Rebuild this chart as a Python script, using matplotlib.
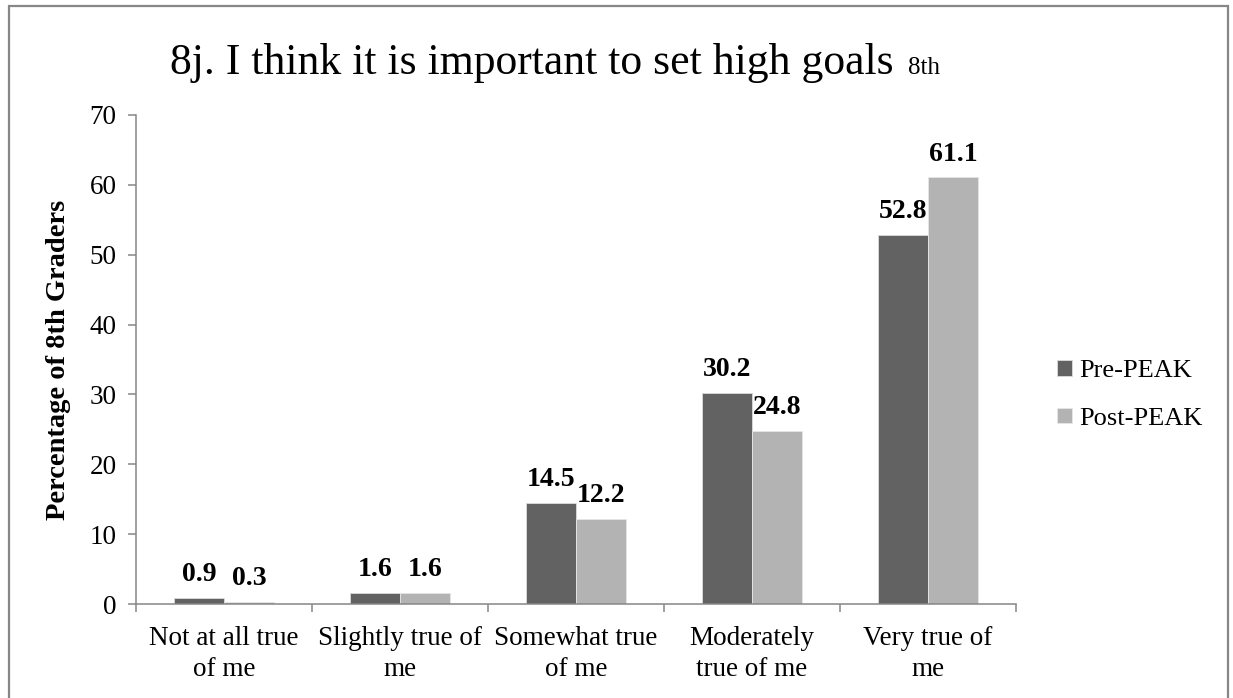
import numpy as np
import matplotlib.pyplot as plt
from matplotlib.patches import Rectangle

# data
categories = ['Not at all true\nof me', 'Slightly true of\nme', 'Somewhat true\nof me',
              'Moderately\ntrue of me', 'Very true of\nme']
pre_peak = [0.9, 1.6, 14.5, 30.2, 52.8]
post_peak = [0.3, 1.6, 12.2, 24.8, 61.1]
series_names = ['Pre-PEAK', 'Post-PEAK']
yticks = [0, 10, 20, 30, 40, 50, 60, 70]

plt.rcParams['font.family'] = ['Liberation Serif', 'DejaVu Serif']

W, H = 1233, 698
fig = plt.figure(figsize=(W / 100, H / 100), dpi=100)
ax = fig.add_axes([136 / W, 1 - 604 / H, (1016 - 136) / W, (604 - 115) / H])

grey = '#868686'
x = np.arange(len(categories))
w = 0.284
b1 = ax.bar(x - w / 2, pre_peak, w, color='#626262', edgecolor='#dcdcdc', linewidth=0.6,
            label=series_names[0])
b2 = ax.bar(x + w / 2, post_peak, w, color='#b3b3b3', edgecolor='#e6e6e6', linewidth=0.6,
            label=series_names[1])

for bars, vals in [(b1, pre_peak), (b2, post_peak)]:
    for r, v in zip(bars, vals):
        ax.annotate(f'{v}', (r.get_x() + r.get_width() / 2, v), xytext=(0, 12),
                    textcoords='offset points', ha='center', va='baseline',
                    fontsize=20, fontweight='bold')

ax.set_xlim(-0.5, len(categories) - 0.5)
ax.set_ylim(0, 70)
ax.set_yticks(yticks)
ax.set_xticks(x)
ax.set_xticklabels(categories, linespacing=1.3)
ax.set_xticks(np.arange(len(categories) + 1) - 0.5, minor=True)
ax.tick_params(axis='x', which='major', length=0, pad=16, labelsize=19.5)
ax.tick_params(axis='x', which='minor', length=6, width=1.1, color=grey, direction='out')
ax.tick_params(axis='y', length=6, width=1.1, color=grey, pad=8, labelsize=19.5)

for s in ['top', 'right']:
    ax.spines[s].set_visible(False)
for s in ['left', 'bottom']:
    ax.spines[s].set_color(grey)
    ax.spines[s].set_linewidth(1.1)

fig.text(59 / W, 1 - 360 / H, 'Percentage of 8th Graders', rotation=90, ha='center',
         va='center', fontsize=20.5, fontweight='bold')

# title with the small "8th" tag right after it
t = fig.text(170 / W, 1 - 74 / H, '8j. I think it is important to set high goals',
             ha='left', va='baseline', fontsize=31.5)
fig.canvas.draw()
bb = t.get_window_extent()
fig.text((bb.x1 + 14) / W, 1 - 74 / H, '8th', ha='left', va='baseline', fontsize=18)

ax.legend(loc='center left', bbox_to_anchor=(1057 / W, 1 - 395 / H),
          bbox_transform=fig.transFigure, frameon=False, fontsize=19,
          handlelength=0.55, handleheight=0.55, handletextpad=0.3,
          labelspacing=0.95, borderpad=0, borderaxespad=0)

fig.patches.append(Rectangle((9 / W, -0.02), (1228 - 9) / W, 1.02 - 6 / H,
                             transform=fig.transFigure, fill=False,
                             edgecolor='#878787', linewidth=1.6))

fig.savefig('out.png', dpi=100)
